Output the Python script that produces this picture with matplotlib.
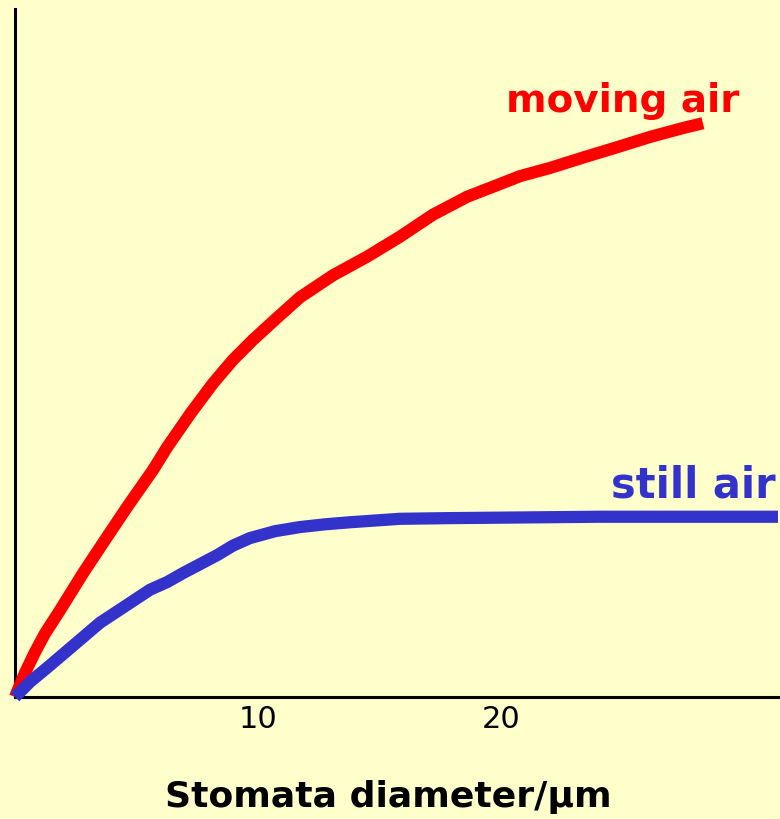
import matplotlib.pyplot as plt

# stomata diameter (um) vs diffusion rate (arbitrary units, 0-100)
x_moving = [0, 0.41, 0.82, 1.23, 1.85, 2.80, 3.70, 4.61, 5.68, 6.26, 7.20, 8.15, 8.97, 9.79, 10.78, 11.73,
            13.09, 14.49, 15.84, 17.20, 18.60, 19.84, 20.78, 22.02, 23.46, 24.77, 26.13, 27.49, 28.31]
y_moving = [0, 3.5, 6.5, 9.2, 12.6, 18.0, 22.8, 27.6, 33.0, 36.3, 41.1, 45.6, 49.0, 51.9, 55.1, 58.1,
            61.3, 64.0, 66.9, 70.1, 72.7, 74.4, 75.7, 76.9, 78.5, 79.9, 81.4, 82.7, 83.4]

x_still = [0, 0.62, 1.44, 2.47, 3.50, 4.53, 5.56, 6.26, 6.91, 7.61, 8.31, 8.97, 9.67, 10.70, 11.73,
           12.76, 13.79, 15.84, 17.90, 24.07, 31.4]
y_still = [0, 2.2, 4.6, 7.7, 10.8, 13.2, 15.6, 16.7, 18.0, 19.3, 20.6, 22.0, 23.1, 24.1, 24.7,
           25.1, 25.4, 25.9, 26.0, 26.2, 26.2]

tick_pos = [10, 20]
tick_labels = ["10", "20"]

bg = "#FFFFCC"
red = "#FF0000"
blue = "#3333CC"

fig = plt.figure(figsize=(7.8, 8.19), dpi=100, facecolor=bg)
ax = fig.add_axes([15/780, 122/819, 763/780, 688/819])
ax.set_facecolor(bg)

ax.plot(x_moving, y_moving, color=red, lw=8.8, solid_capstyle="butt", solid_joinstyle="round", clip_on=False, zorder=3)
ax.plot(x_still, y_still, color=blue, lw=8.8, solid_capstyle="butt", solid_joinstyle="round", clip_on=False, zorder=4)

ax.set_xlim(0, 31.4)
ax.set_ylim(0, 100)

for s in ["top", "right"]:
	ax.spines[s].set_visible(False)
for s in ["left", "bottom"]:
	ax.spines[s].set_linewidth(2.2)
	ax.spines[s].set_color("black")

ax.set_xticks(tick_pos)
ax.set_xticklabels(tick_labels, fontsize=22)
ax.set_yticks([])
ax.tick_params(axis="x", length=0, pad=6)

ax.text(25.0, (697-112)/6.88, "moving air", color=red, fontsize=28, fontweight="bold", ha="center", va="baseline")
ax.text(31.3, (697-498)/6.88, "still air", color=blue, fontsize=30, fontweight="bold", ha="right", va="baseline")

fig.text(388/780, 1 - 797/819, "Stomata diameter/µm", fontsize=26, fontweight="bold", ha="center", va="center")

fig.savefig("out.png", dpi=100, facecolor=bg)
